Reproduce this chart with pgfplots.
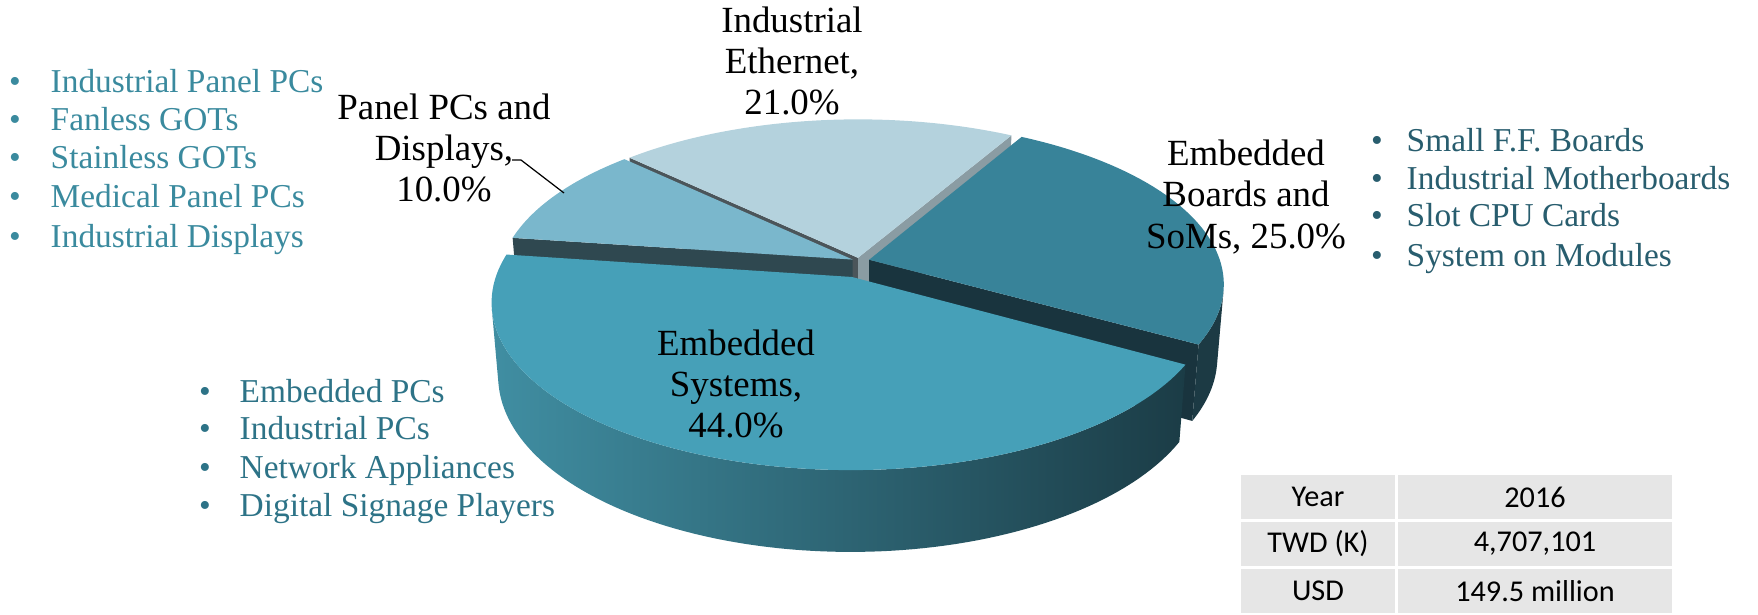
\documentclass[border=0pt]{standalone}
\usepackage{fontspec}
\setmainfont{Liberation Serif}
\newfontfamily\tabfont{Carlito}
\usepackage{pgfplots}
\usepackage{pgfplotstable}
\pgfplotsset{compat=1.18}

\pgfkeys{/pgf/declare function={
  PW(\X,\Y,\Z) = 36.81 - 2.760*\Y - 5.403*\Z;
  PX(\X,\Y,\Z) = 859 + 12920*\X/PW(\X,\Y,\Z);
  PY(\X,\Y,\Z) = 261 + (5877*\Z - 11506*\Y)/PW(\X,\Y,\Z);
}}

\definecolor{esTop}{RGB}{70,160,184}
\definecolor{esW1}{RGB}{64,142,162}
\definecolor{esW2}{RGB}{42,103,119}
\definecolor{esW3}{RGB}{27,60,70}
\definecolor{bdTop}{RGB}{56,131,153}
\definecolor{bdCut}{RGB}{25,52,62}
\definecolor{bdWall}{RGB}{28,58,68}
\definecolor{ethTop}{RGB}{180,210,221}
\definecolor{ethCut}{RGB}{138,156,163}
\definecolor{ethCutB}{RGB}{75,85,90}
\definecolor{pnTop}{RGB}{122,183,204}
\definecolor{pnCut}{RGB}{47,72,80}
\definecolor{listP}{RGB}{58,138,158}
\definecolor{listB}{RGB}{40,93,110}
\definecolor{listE}{RGB}{45,115,135}
\definecolor{cellgray}{RGB}{230,230,230}

\pgfplotstableread{
slice value
ES 44
Boards 25
Ethernet 21
Panel 10
}\piedata

\def\pieH{0.236}

% top face: color, start, end, ex, ez
\newcommand\topface[5]{%
  \addplot[fill=#1, draw=none, domain=#2:#3, samples=90, variable=\t]
    ({PX(#4+cos(\t),0,#5-sin(\t))},{PY(#4+cos(\t),0,#5-sin(\t))})
    -- (axis cs:{PX(#4,0,#5)},{PY(#4,0,#5)}) -- cycle;
}
% radial cut face: color, angle, ex, ez
\newcommand\cutface[4]{%
  \fill[#1] (axis cs:{PX(#3,0,#4)},{PY(#3,0,#4)})
    -- (axis cs:{PX(#3+cos(#2),0,#4-sin(#2))},{PY(#3+cos(#2),0,#4-sin(#2))})
    -- (axis cs:{PX(#3+cos(#2),-\pieH,#4-sin(#2))},{PY(#3+cos(#2),-\pieH,#4-sin(#2))})
    -- (axis cs:{PX(#3,-\pieH,#4)},{PY(#3,-\pieH,#4)}) -- cycle;
}
% outer wall: style, start, end, ex, ez
\newcommand\wall[5]{%
  \addplot[#1, draw=none, domain=#2:#3, samples=90, variable=\t]
    ({PX(#4+cos(\t),0,#5-sin(\t))},{PY(#4+cos(\t),0,#5-sin(\t))})
    -- plot[domain=#3:#2, samples=90, variable=\s]
    ({PX(#4+cos(\s),-\pieH,#5-sin(\s))},{PY(#4+cos(\s),-\pieH,#5-sin(\s))}) -- cycle;
}
% bullet line: color, x bullet, x text, baseline y, text
\newcommand\bline[5]{%
  \node[anchor=base, text=#1] at (axis cs:#2,#4) {\textbullet};
  \node[anchor=base west, text=#1] at (axis cs:#3,#4) {#5};
}

\begin{document}
\pgfplotstablegetelem{0}{value}\of\piedata\edef\vES{\pgfplotsretval}%
\pgfplotstablegetelem{1}{value}\of\piedata\edef\vBD{\pgfplotsretval}%
\pgfplotstablegetelem{2}{value}\of\piedata\edef\vET{\pgfplotsretval}%
\pgfplotstablegetelem{3}{value}\of\piedata\edef\vPN{\pgfplotsretval}%
\pgfmathsetmacro\aA{172}%
\pgfmathsetmacro\aB{\aA+3.6*\vES}%
\pgfmathsetmacro\aC{\aB+3.6*\vBD}%
\pgfmathsetmacro\aD{\aC+3.6*\vET}%
\pgfmathsetmacro\aE{\aD+3.6*\vPN}%
\begin{tikzpicture}
\begin{axis}[
  scale only axis, width=17.58cm, height=6.14cm,
  xmin=0, xmax=1758, ymin=0, ymax=614, y dir=reverse,
  hide axis, clip=false]

% Industrial Ethernet (back)
\cutface{ethCut}{\aC}{-0.003}{-0.020}
\cutface{ethCutB}{\aD}{-0.003}{-0.020}
\topface{ethTop}{\aC}{\aD}{-0.003}{-0.020}
% Panel PCs and Displays
\cutface{pnCut}{\aE}{-0.018}{-0.009}
\topface{pnTop}{\aD}{\aE}{-0.018}{-0.009}
% Embedded Boards and SoMs
\cutface{bdCut}{\aB}{0.029}{-0.008}
\wall{fill=bdWall}{\aB}{349}{0.029}{-0.008}
\topface{bdTop}{\aB}{\aC}{0.029}{-0.008}
% Embedded Systems (front, exploded)
\wall{left color=esW1, middle color=esW2, right color=esW3}{191}{\aB}{-0.02}{0.0985}
\topface{esTop}{\aA}{\aB}{-0.02}{0.0985}

% slice labels
\begin{scope}[every node/.style={align=center, inner sep=0pt, font=\fontsize{10.5}{11.7}\selectfont}]
\node at (axis cs:792,61) {Industrial\\Ethernet,\\21.0\%};
\node at (axis cs:444,148) {Panel PCs and\\Displays,\\10.0\%};
\node at (axis cs:1246,197) {Embedded\\Boards and\\SoMs, 25.0\%};
\node at (axis cs:736,384) {Embedded\\Systems,\\44.0\%};
\end{scope}
\draw[black, line width=0.35pt] (axis cs:512,160) -- (axis cs:521,160) -- (axis cs:564,193);

% bullet lists
\begin{scope}[every node/.style={inner sep=0pt, font=\fontsize{9.5}{11}\selectfont}]
\bline{listP}{15}{50}{92}{Industrial Panel PCs}
\bline{listP}{15}{50}{130}{Fanless GOTs}
\bline{listP}{15}{50}{168}{Stainless GOTs}
\bline{listP}{15}{50}{207}{Medical Panel PCs}
\bline{listP}{15}{50}{247}{Industrial Displays}
\bline{listB}{1377}{1406}{151}{Small F.F. Boards}
\bline{listB}{1377}{1406}{189}{Industrial Motherboards}
\bline{listB}{1377}{1406}{226}{Slot CPU Cards}
\bline{listB}{1377}{1406}{266}{System on Modules}
\bline{listE}{205}{239}{402}{Embedded PCs}
\bline{listE}{205}{239}{439}{Industrial PCs}
\bline{listE}{205}{239}{478}{Network Appliances}
\bline{listE}{205}{239}{516}{Digital Signage Players}
\end{scope}

% table
\fill[cellgray] (axis cs:1241,475) rectangle (axis cs:1395,519);
\fill[cellgray] (axis cs:1398,475) rectangle (axis cs:1672,519);
\fill[cellgray] (axis cs:1241,522) rectangle (axis cs:1395,566);
\fill[cellgray] (axis cs:1398,522) rectangle (axis cs:1672,566);
\fill[cellgray] (axis cs:1241,569) rectangle (axis cs:1395,613);
\fill[cellgray] (axis cs:1398,569) rectangle (axis cs:1672,613);
\begin{scope}[every node/.style={inner sep=0pt, font=\tabfont\fontsize{8.6}{10}\selectfont}]
\node at (axis cs:1318,497) {Year};
\node at (axis cs:1535,497) {2016};
\node at (axis cs:1318,544) {TWD (K)};
\node at (axis cs:1535,544) {4,707,101};
\node at (axis cs:1318,591) {USD};
\node at (axis cs:1535,591) {149.5 million};
\end{scope}
\end{axis}
\pgfresetboundingbox
\path (current axis.south west) rectangle (current axis.north east);
\end{tikzpicture}
\end{document}
